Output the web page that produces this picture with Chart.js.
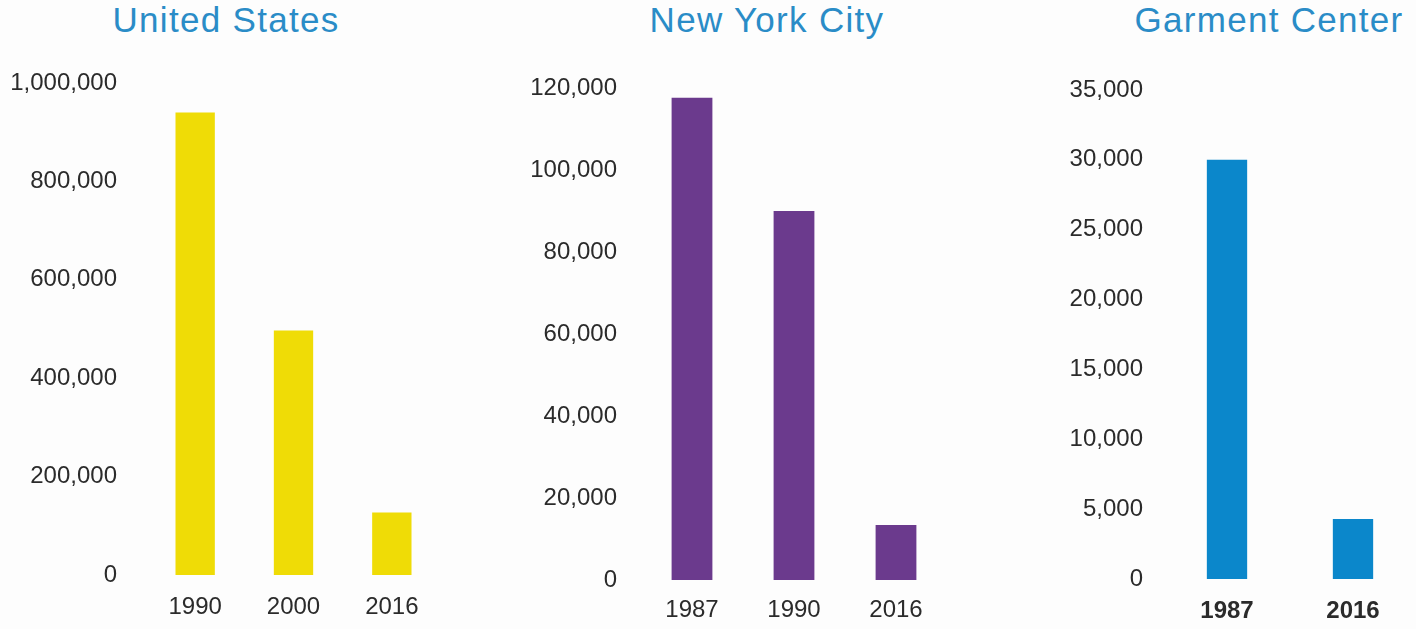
<!DOCTYPE html>
<html>
<head>
<meta charset="utf-8">
<script src="https://cdn.jsdelivr.net/npm/chart.js@4.4.1/dist/chart.umd.min.js"></script>
<style>
  body { margin: 0; background: #fff; }
  #page { position: relative; width: 1416px; height: 629px; background: #fdfdfd; overflow: hidden; }
  .box { position: absolute; top: 0; height: 629px; }
  .title {
    position: absolute; top: 2px; transform: translateX(-50%);
    font-family: "Liberation Sans", Arial, sans-serif; font-size: 35px; line-height: 35px;
    letter-spacing: 1.3px; color: #2a8cc7; white-space: nowrap;
  }
</style>
</head>
<body>
<div id="page">
  <div class="title" style="left:226px">United States</div>
  <div class="title" style="left:767px">New York City</div>
  <div class="title" style="left:1269px">Garment Center</div>

  <div class="box" style="left:0; width:450px"><canvas id="usChart"></canvas></div>
  <div class="box" style="left:470px; width:487px"><canvas id="nycChart"></canvas></div>
  <div class="box" style="left:960px; width:456px"><canvas id="gcChart"></canvas></div>
</div>

<script>
// data
const usYears = ["1990", "2000", "2016"];
const usJobs = [940000, 497000, 127000];

const nycYears = ["1987", "1990", "2016"];
const nycJobs = [117600, 90000, 13400];

const gcYears = ["1987", "2016"];
const gcJobs = [30000, 4300];

const FONT = "'Liberation Sans', Arial, sans-serif";
const TICK_COLOR = "#2b2b2b";

function barChart(id, labels, values, opts) {
  new Chart(document.getElementById(id), {
    type: "bar",
    data: {
      labels: labels,
      datasets: [{
        data: values,
        backgroundColor: opts.color,
        barPercentage: opts.barPct,
        categoryPercentage: 1
      }]
    },
    options: {
      responsive: true,
      maintainAspectRatio: false,
      animation: false,
      layout: { padding: { top: opts.top, right: opts.right, left: 0, bottom: 0 } },
      plugins: {
        legend: { display: false },
        tooltip: { enabled: false }
      },
      scales: {
        x: {
          grid: { display: false, drawTicks: false },
          border: { display: false },
          ticks: {
            color: TICK_COLOR,
            padding: opts.xPad,
            font: { family: FONT, size: 24, weight: opts.boldX ? "bold" : "normal" }
          },
          afterFit: s => { s.height = opts.xHeight; }
        },
        y: {
          min: 0,
          max: opts.max,
          grid: { display: false, drawTicks: false },
          border: { display: false },
          ticks: {
            stepSize: opts.step,
            color: TICK_COLOR,
            padding: opts.yPad,
            font: { family: FONT, size: 24 },
            callback: v => v.toLocaleString("en-US")
          },
          afterFit: s => { s.width = opts.yWidth; }
        }
      }
    }
  });
}

// United States
barChart("usChart", usYears, usJobs, {
  color: "#efdc06", barPct: 0.4, max: 1000000, step: 200000,
  top: 83, right: 9, yWidth: 146, yPad: 29, xHeight: 54, xPad: 18
});

// New York City
barChart("nycChart", nycYears, nycJobs, {
  color: "#6b3a8d", barPct: 0.4, max: 120000, step: 20000,
  top: 88, right: 10, yWidth: 171, yPad: 24, xHeight: 49, xPad: 16
});

// Garment Center
barChart("gcChart", gcYears, gcJobs, {
  color: "#0b87cb", barPct: 0.32, max: 35000, step: 5000,
  top: 90, right: 0, yWidth: 204, yPad: 21, xHeight: 50, xPad: 18, boldX: true
});
</script>
</body>
</html>
